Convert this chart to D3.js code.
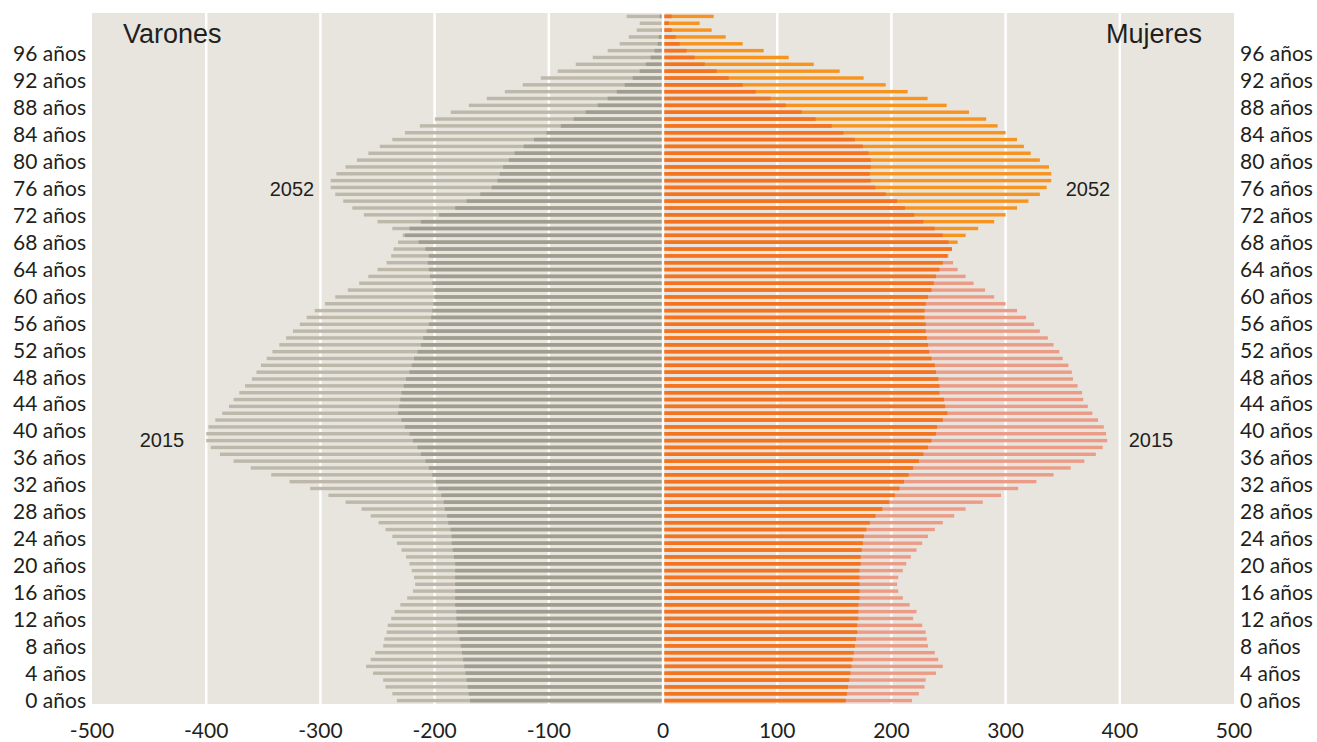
<!DOCTYPE html>
<html>
<head>
<meta charset="utf-8">
<script src="https://cdnjs.cloudflare.com/ajax/libs/d3/7.8.5/d3.min.js"></script>
<style>
  html, body { margin: 0; padding: 0; background: #fff; }
  svg text { fill: #231F20; }
  .tick-label { font-family: Lato, "Open Sans", sans-serif; font-size: 21px; }
  .side-label { font-family: "Liberation Sans", Arial, sans-serif; font-size: 27px; }
  .year-label { font-family: "Liberation Sans", Arial, sans-serif; font-size: 20px; }
</style>
</head>
<body>
<svg id="chart" width="1317" height="742"></svg>
<script>
// thousands of people, single year of age 0..100 (100 = 100 y mas)
var ages = d3.range(0, 101);

var varones2015 = [233, 237, 243, 245, 254, 260, 256, 252, 245, 244,
  242, 241, 238, 235, 230, 224, 219, 217, 218, 220,
  222, 225, 229, 233, 237, 243, 249, 256, 264, 278,
  293, 309, 327, 343, 361, 376, 388, 396, 400, 400,
  398, 392, 386, 380, 376, 371, 366, 360, 356, 352,
  347, 342, 336, 330, 324, 318, 312, 305, 296, 287,
  276, 266, 258, 250, 242, 238, 236, 232, 228, 222,
  212, 196, 182, 172, 160, 150, 145, 143, 140, 135,
  130, 122, 113, 102, 89.5, 78.2, 67.7, 57.2, 48.4, 40.5,
  33.5, 26.5, 20.4, 15.1, 10.8, 7.3, 4.6, 3.8, 2.0, 1.1, 2.9];

var varones2052 = [169, 170, 171, 172, 173, 174, 175, 176, 177, 178,
  180, 180, 181, 181, 182, 182, 182, 182, 182, 182,
  182, 183, 184, 185, 185, 186, 188, 189, 191, 192,
  194, 197, 199, 202, 205, 208, 212, 215, 219, 222,
  226, 229, 232, 231, 230, 229, 227, 225, 222, 220,
  218, 215, 212, 210, 207, 205, 203, 202, 201, 200,
  200, 202, 204, 205, 206, 205, 208, 214, 226, 237,
  250, 262, 272, 280, 287, 291, 291, 286, 278, 268,
  258, 248, 237, 226, 212.9, 199.8, 185.8, 170, 154.3, 138.5,
  122.8, 107, 92.2, 76.4, 61.5, 48.4, 37.9, 30, 23, 20.4, 31.8];

var mujeres2015 = [218, 224, 229, 230, 239, 245, 241, 238, 232, 231,
  230, 227, 219, 222, 216, 210, 206, 205, 206, 210,
  213, 217, 222, 227, 232, 238, 245, 255, 265, 280,
  296, 311, 327, 342, 357, 369, 379, 385, 389, 388,
  386, 381, 376, 372, 368, 367, 363, 359, 358, 355,
  350, 347, 342, 337, 330, 325, 318, 310, 300, 290,
  282, 272, 265, 258, 254, 250, 253, 250, 245, 238,
  228, 220, 212, 205, 195, 186, 182, 181, 182, 182,
  180, 175, 168, 158, 147.7, 133.6, 121.4, 107.4, 94.3, 81.2,
  69.8, 57.5, 47, 36.5, 27.7, 20.7, 14.6, 11.1, 7.6, 5.0, 7.6];

var mujeres2052 = [160, 161, 162, 163, 164, 165, 166, 167, 168, 169,
  170, 170, 171, 171, 171, 172, 172, 172, 172, 172,
  173, 173, 174, 175, 176, 178, 181, 186, 192, 198,
  203, 207, 211, 215, 219, 224, 228, 232, 235, 239,
  240, 245, 249, 247, 246, 242, 242, 241, 239, 238,
  235, 233, 232, 231, 230, 230, 229, 229, 230, 232,
  235, 237, 239, 242, 245, 249, 253, 258, 265, 276,
  290, 300, 310, 320, 330, 336, 340, 340, 338, 330,
  322, 316, 310, 300, 293, 283, 268, 248.4, 231.7, 214.2,
  195, 175.7, 154.7, 132, 110.1, 88.2, 69.8, 54.9, 42.6, 32.1, 44.4];

var xTicks = [-500, -400, -300, -200, -100, 0, 100, 200, 300, 400, 500];
var ageTicks = d3.range(0, 100, 4);

var colors = {
  bg: '#E8E5DF',
  grid: '#FFFFFF',
  varones: '#BDB8A9',
  varonesBoth: '#9F9C90',
  mujeres2015: '#EC9C86',
  mujeres2052: '#F7941F',
  mujeresBoth: '#F37322'
};

var margin = {top: 13, right: 83, bottom: 38, left: 92};
var width = 1317, height = 742;

function main() {
  var svg = d3.select('#chart');

  var x = d3.scaleLinear()
    .domain([-500, 500])
    .range([margin.left, width - margin.right]);

  var y = d3.scaleBand()
    .domain(ages.slice().reverse())
    .range([margin.top, height - margin.bottom])
    .paddingInner(0.5)
    .paddingOuter(0.25);

  // the age labels sit on a slightly tighter spacing than the bars
  var yLab = d3.scaleLinear()
    .domain([0, 100])
    .range([700, 27]);

  svg.append('rect')
    .attr('x', x(-500)).attr('y', margin.top)
    .attr('width', x(500) - x(-500))
    .attr('height', height - margin.bottom - margin.top)
    .attr('fill', colors.bg);

  svg.append('g').selectAll('line')
    .data(xTicks.filter(function(d) { return Math.abs(d) < 500; }))
    .join('line')
    .attr('x1', function(d) { return x(d); })
    .attr('x2', function(d) { return x(d); })
    .attr('y1', margin.top)
    .attr('y2', height - margin.bottom)
    .attr('stroke', colors.grid)
    .attr('stroke-width', 2.5);

  var gap = 1.5; // bars stop short of the centre line
  var rows = ages.map(function(a, i) {
    return {age: a, v15: varones2015[i], v52: varones2052[i], m15: mujeres2015[i], m52: mujeres2052[i]};
  });

  function drawSide(cls, key15, key52, sign, c15, c52, cBoth) {
    var g = svg.append('g').attr('class', cls);
    var layers = [
      {color: c15, val: function(d) { return d[key15]; }},
      {color: c52, val: function(d) { return d[key52]; }},
      {color: cBoth, val: function(d) { return Math.min(d[key15], d[key52]); }}
    ];
    layers.forEach(function(l) {
      g.append('g').selectAll('rect')
        .data(rows)
        .join('rect')
        .attr('x', function(d) { return sign < 0 ? x(-l.val(d)) : x(0) + gap; })
        .attr('width', function(d) { return x(l.val(d)) - x(0) - gap; })
        .attr('y', function(d) { return y(d.age); })
        .attr('height', y.bandwidth())
        .attr('fill', l.color);
    });
  }

  drawSide('varones', 'v15', 'v52', -1, colors.varones, colors.varones, colors.varonesBoth);
  drawSide('mujeres', 'm15', 'm52', 1, colors.mujeres2015, colors.mujeres2052, colors.mujeresBoth);

  // x axis
  svg.append('g').selectAll('text')
    .data(xTicks)
    .join('text')
    .attr('class', 'tick-label')
    .attr('x', function(d) { return x(d); })
    .attr('y', 738)
    .attr('text-anchor', 'middle')
    .text(function(d) { return d; });

  // age labels, both sides
  [{xPos: 86, anchor: 'end'}, {xPos: 1240, anchor: 'start'}].forEach(function(s) {
    svg.append('g').selectAll('text')
      .data(ageTicks)
      .join('text')
      .attr('class', 'tick-label')
      .attr('x', s.xPos)
      .attr('y', function(d) { return yLab(d); })
      .attr('dy', '0.36em')
      .attr('text-anchor', s.anchor)
      .text(function(d) { return d + ' años'; });
  });

  svg.append('text').attr('class', 'side-label')
    .attr('x', 123).attr('y', 43).text('Varones');
  svg.append('text').attr('class', 'side-label')
    .attr('x', 1202).attr('y', 43).attr('text-anchor', 'end').text('Mujeres');

  var yearLabels = [
    {t: '2052', cx: 292, age: 76},
    {t: '2015', cx: 162, age: 38.6},
    {t: '2052', cx: 1088, age: 76},
    {t: '2015', cx: 1151, age: 38.6}
  ];
  svg.append('g').selectAll('text')
    .data(yearLabels)
    .join('text')
    .attr('class', 'year-label')
    .attr('x', function(d) { return d.cx; })
    .attr('y', function(d) { return yLab(d.age); })
    .attr('dy', '0.36em')
    .attr('text-anchor', 'middle')
    .text(function(d) { return d.t; });
}

main();
</script>
</body>
</html>
